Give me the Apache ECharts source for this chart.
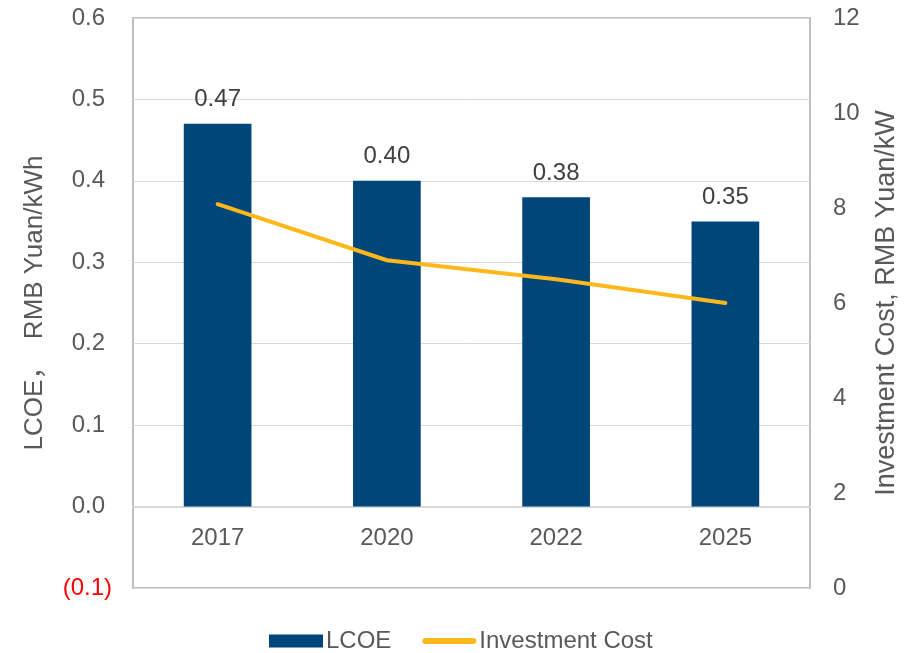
<!DOCTYPE html>
<html>
<head>
<meta charset="utf-8">
<script src="https://cdn.jsdelivr.net/npm/echarts@6/dist/echarts.min.js"></script>
<style>
  html, body { margin: 0; padding: 0; background: #fff; }
  #chart { width: 910px; height: 653px; }
</style>
</head>
<body>
<div id="chart"></div>
<script>
// Years on the category axis
const years = ['2017', '2020', '2022', '2025'];
// Levelized cost of electricity, RMB Yuan/kWh (left axis)
const lcoe = [0.47, 0.40, 0.38, 0.35];
// Investment cost, RMB Yuan/kW (right axis)
const investmentCost = [8.08, 6.9, 6.5, 6.0];

const textColor = '#595959';
const fontFamily = '"Liberation Sans", Arial, "Noto Sans CJK SC", sans-serif';

// Plot box geometry; the category axis sits on the 0.0 line of the left scale
const grid = { left: 133, right: 100, top: 18, bottom: 65 };
const plotHeight = 653 - grid.top - grid.bottom;
const leftMin = -0.1, leftMax = 0.6;
const zeroOffset = plotHeight * (0 - leftMin) / (leftMax - leftMin);

// Thin rounded bar used as the legend swatch of the line series
const lineSwatch = 'path://M3,0 H51 A3,3 0 0 1 51,6 H3 A3,3 0 0 1 3,0 Z';

const chart = echarts.init(document.getElementById('chart'));
chart.setOption({
  animation: false,
  textStyle: { fontFamily: fontFamily, color: textColor },
  grid: Object.assign({ show: true, borderColor: '#BFBFBF', borderWidth: 2 }, grid),
  legend: {
    top: 624,
    left: 264,
    itemGap: 31,
    itemWidth: 54,
    itemHeight: 13,
    symbolKeepAspect: true,
    textStyle: { fontSize: 24, color: textColor, fontFamily: fontFamily, padding: [0, 0, 0, -2] },
    data: [
      { name: 'LCOE', icon: 'rect' },
      { name: 'Investment Cost', icon: lineSwatch }
    ]
  },
  xAxis: {
    type: 'category',
    data: years,
    offset: -zeroOffset,
    axisLine: { onZero: false, lineStyle: { color: '#D9D9D9', width: 2 } },
    axisTick: { show: false },
    axisLabel: { fontSize: 24, color: textColor, margin: 20 }
  },
  yAxis: [
    {
      type: 'value',
      min: leftMin,
      max: leftMax,
      interval: 0.1,
      name: 'LCOE，  RMB Yuan/kWh',
      nameLocation: 'middle',
      nameGap: 85,
      nameTextStyle: { fontSize: 26, color: textColor },
      axisLine: { show: false },
      axisTick: { show: false },
      splitLine: { lineStyle: { color: '#D9D9D9', width: 1 } },
      axisLabel: {
        fontSize: 24,
        margin: 21,
        formatter: function (v) {
          if (v < -1e-9) return '{neg|(' + Math.abs(v).toFixed(1) + ')}';
          return '{pos|' + v.toFixed(1) + '}';
        },
        rich: {
          neg: { fontSize: 24, color: '#FF0000' },
          pos: { fontSize: 24, color: textColor, padding: [0, 7, 0, 0] }
        }
      }
    },
    {
      type: 'value',
      min: 0,
      max: 12,
      interval: 2,
      name: 'Investment Cost, RMB Yuan/kW',
      nameLocation: 'middle',
      nameGap: 63,
      nameTextStyle: { fontSize: 27, color: textColor },
      axisLine: { show: false },
      axisTick: { show: false },
      splitLine: { show: false },
      axisLabel: { fontSize: 24, color: textColor, margin: 23 }
    }
  ],
  series: [
    {
      name: 'LCOE',
      type: 'bar',
      yAxisIndex: 0,
      data: lcoe,
      barWidth: '40%',
      itemStyle: { color: '#00467A' },
      label: {
        show: true,
        position: 'top',
        distance: 12,
        fontSize: 24,
        color: '#404040',
        formatter: function (p) { return p.value.toFixed(2); }
      }
    },
    {
      name: 'Investment Cost',
      type: 'line',
      yAxisIndex: 1,
      data: investmentCost,
      symbol: 'none',
      lineStyle: { color: '#FFB81C', width: 4, cap: 'round' },
      itemStyle: { color: '#FFB81C' }
    }
  ]
});
</script>
</body>
</html>
